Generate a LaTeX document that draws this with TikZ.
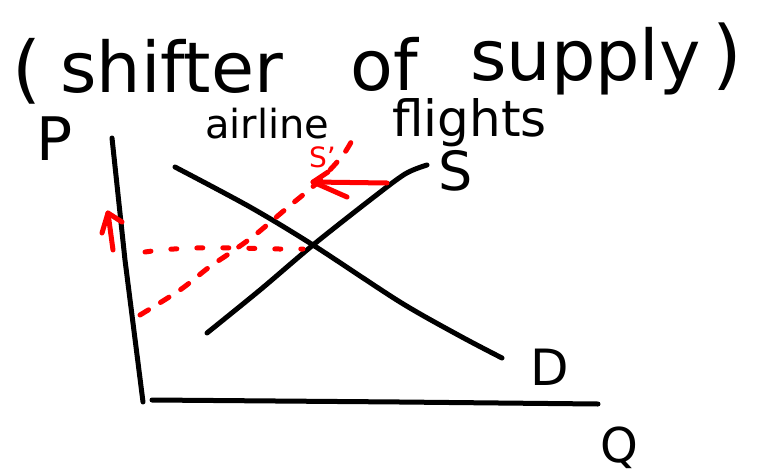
\documentclass[tikz,border=0pt]{standalone}
\usepackage{fontspec}
\setmainfont{DejaVu Sans}
\begin{document}
\begin{tikzpicture}[x=1pt,y=-1pt,
  ink/.style={line width=5pt,line cap=round,line join=round,black},
  redink/.style={line width=5pt,line cap=round,line join=round,red},
  reddash/.style={redink,dash pattern=on 10pt off 14pt},
  reddot/.style={redink,dash pattern=on 6pt off 20pt},
  lbl/.style={inner sep=0pt,anchor=base west}]
\useasboundingbox[fill=white] (0,0) rectangle (771,474);
% title
\node[lbl,font=\fontsize{74}{74}\selectfont] (lp) at (12,94) {(};
\node[lbl,font=\fontsize{70}{70}\selectfont] (t1) at (60,92) {shifter};
\node[lbl,font=\fontsize{70}{70}\selectfont] (t2) at (350,90) {of};
\node[lbl,font=\fontsize{70}{70}\selectfont] (t3) at (470,80) {supply};
\node[lbl,font=\fontsize{76}{76}\selectfont] (rp) at (712,80) {)};
\node[lbl,font=\fontsize{40}{40}\selectfont] (a1) at (205,138) {airline};
\node[lbl,font=\fontsize{50}{50}\selectfont] (a2) at (392,136) {flights};
% axis labels
\node[lbl,font=\fontsize{60}{60}\selectfont] (P) at (36,160) {P};
\node[lbl,font=\fontsize{54}{54}\selectfont] (S) at (438,190) {S};
\node[lbl,font=\fontsize{50}{50}\selectfont] (D) at (530,385) {D};
\node[lbl,font=\fontsize{48}{48}\selectfont] (Q) at (600,462) {Q};
\node[lbl,font=\fontsize{28}{28}\selectfont,text=red] (Sp) at (309,167) {S'};
% axes
\draw[ink] (112,138) -- (125,260) -- (143,402);
\draw[ink] (152,400) -- (400,402) -- (598,404);
% demand
\draw[ink] plot[smooth] coordinates {(175,167) (250,207) (313,245) (400,302) (460,336) (502,358)};
% supply
\draw[ink] plot[smooth] coordinates {(207,333) (260,290) (313,245) (370,200) (405,174) (427,165)};
% shifted supply (dashed)
\draw[reddash] plot[smooth] coordinates {(140,315) (180,290) (208,268) (230,253) (255,235) (287,208) (318,182) (343,155) (356,133)};
% dotted price line
\draw[reddot] (145,252) .. controls (200,244) and (260,250) .. (303,249);
% arrow showing shift
\draw[redink] (387,183) -- (313,182);
\draw[redink] (328,172) -- (313,182) -- (347,197);
% price up arrow
\draw[redink] (113,250) -- (108,213);
\draw[redink] (102,233) -- (108,213) -- (122,222);
\end{tikzpicture}
\end{document}
